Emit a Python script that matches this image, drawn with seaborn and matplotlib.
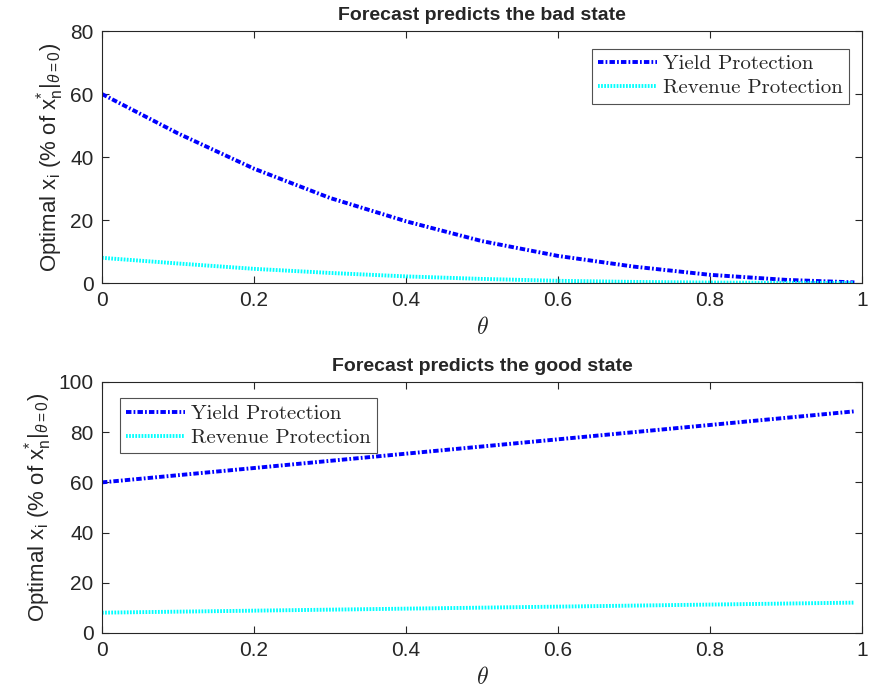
import numpy as np
import pandas as pd
import matplotlib
matplotlib.use('Agg')
import matplotlib.pyplot as plt
import seaborn as sns

# values
theta_bad = [0, 0.1, 0.2, 0.3, 0.4, 0.5, 0.6, 0.7, 0.8, 0.9, 0.99]
yield_bad = [60, 47.5, 36.3, 27.0, 19.6, 13.3, 8.6, 5.2, 2.6, 1.0, 0.2]
revenue_bad = [8.0, 6.2, 4.5, 3.2, 2.1, 1.3, 0.7, 0.35, 0.15, 0.05, 0.0]

theta_good = [0, 0.5, 0.99]
yield_good = [60, 74.3, 88.3]
revenue_good = [8.1, 10.1, 12.1]

series_names = ['Yield Protection', 'Revenue Protection']
titles = ['Forecast predicts the bad state', 'Forecast predicts the good state']

sns.set_style('ticks')
plt.rcParams['font.family'] = ['Liberation Sans', 'DejaVu Sans']
plt.rcParams['mathtext.fontset'] = 'custom'
plt.rcParams['mathtext.rm'] = 'Liberation Sans'
plt.rcParams['mathtext.it'] = 'Liberation Sans:italic'

fig = plt.figure(figsize=(8.7, 6.94), dpi=100)
ax1 = fig.add_axes([0.1172, 0.5922, 0.8736, 0.3631])
ax2 = fig.add_axes([0.1172, 0.0879, 0.8736, 0.3617])

ylab = r'Optimal x$_{\mathregular{i}}$ (% of x$^{*}_{\mathregular{n}}$|$_{\theta\mathregular{=0}}$)'
legend_font = {'family': 'cmr10', 'size': 15}

def draw(ax, th, yv, rv, title, ymax, loc, anchor):
    df = pd.DataFrame({'theta': th, 'yield': yv, 'revenue': rv})
    sns.lineplot(data=df, x='theta', y='yield', ax=ax, color='#0000ff', lw=2.8,
                 label=series_names[0])
    sns.lineplot(data=df, x='theta', y='revenue', ax=ax, color='#00ffff', lw=2.8,
                 label=series_names[1])
    ax.lines[0].set_dashes([1.4, 0.55, 0.45, 0.55])
    ax.lines[1].set_dashes([0.45, 0.35])
    ax.set_xlim(0, 1)
    ax.set_ylim(0, ymax)
    ax.set_xticks([0, 0.2, 0.4, 0.6, 0.8, 1])
    ax.set_xticklabels(['0', '0.2', '0.4', '0.6', '0.8', '1'])
    ax.tick_params(direction='in', top=True, right=True, length=5, width=0.8,
                   labelsize=15, colors='#262626', pad=6)
    for s in ax.spines.values():
        s.set_color('#262626')
        s.set_linewidth(0.8)
    ax.set_title(title, fontsize=14, fontweight='bold', pad=8)
    ax.set_xlabel(r'$\theta$', fontsize=17, math_fontfamily='cm', labelpad=5)
    ax.set_ylabel(ylab, fontsize=16, labelpad=3)
    leg = ax.legend(loc=loc, bbox_to_anchor=anchor, prop=legend_font, frameon=True,
                    fancybox=False, edgecolor='#262626', handlelength=2.8,
                    handletextpad=0.3, borderpad=0.3, labelspacing=0.25,
                    borderaxespad=0)
    leg.get_frame().set_linewidth(0.8)

draw(ax1, theta_bad, yield_bad, revenue_bad, titles[0], 80, 'upper right', (0.983, 0.93))
draw(ax2, theta_good, yield_good, revenue_good, titles[1], 100, 'upper left', (0.024, 0.935))

fig.savefig('out.png', dpi=100)
